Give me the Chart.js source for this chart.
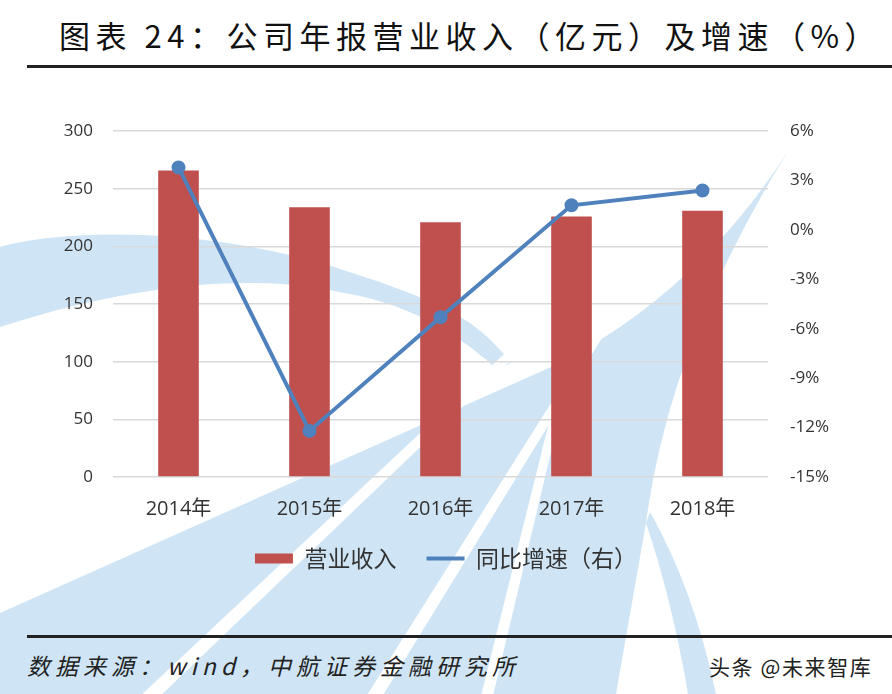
<!DOCTYPE html>
<html>
<head>
<meta charset="utf-8">
<script src="https://cdn.jsdelivr.net/npm/chart.js@4/dist/chart.umd.min.js"></script>
<style>
  html, body { margin: 0; padding: 0; background: #fff; }
  body { width: 892px; height: 694px; position: relative; overflow: hidden; font-family: "Noto Sans CJK SC", sans-serif; }
  #bg { position: absolute; left: 0; top: 0; }
  #title { position: absolute; left: 24px; top: 12px; width: 892px; text-align: center; font-size: 31px; letter-spacing: 5.5px; color: #111; }
  .rule { position: absolute; left: 27px; right: 0; background: #222; }
  #wrap { position: absolute; left: 0; top: 99px; width: 892px; height: 489px; }
  #source { position: absolute; left: 27px; top: 648px; font-size: 23px; letter-spacing: 5px; font-style: italic; color: #222; }
  #mark { position: absolute; left: 709px; top: 651px; font-size: 21px; letter-spacing: 1.6px; color: #222; }
</style>
</head>
<body>
<svg id="bg" width="892" height="694">
  <g fill="#cfe5f5">
    <path d="M0,247 C60,230 200,225 337,268 S480,330 512,362 L498,370 C470,345 420,305 344,293 C270,275 150,278 0,327 Z"/>
    <path d="M790,148 Q700,290 560,363 L0,613 L0,694 L616,694 L646,523 Q670,340 790,148 Z"/>
    <path d="M646,523 Q672,600 688,694 L716,694 Q694,590 650,512 Z"/>
  </g>
  <g fill="#fff">
    <path d="M566,296 L574,300 L156,700 L136,700 Z"/>
    <path d="M616,300 L624,302 L380,700 L364,700 Z"/>
    <path d="M572,330 L580,330 L492,700 L480,700 Z"/>
  </g>
</svg>
<div id="title">图表 24：公司年报营业收入（亿元）及增速（%）</div>
<div class="rule" style="top:65px;height:3px;"></div>
<div id="wrap"><canvas id="chart"></canvas></div>
<div class="rule" style="top:635px;height:3px;"></div>
<div id="source">数据来源：wind，中航证券金融研究所</div>
<div id="mark">头条 @未来智库</div>
<script>
// 数据
const anos = ['2014年', '2015年', '2016年', '2017年', '2018年'];
const receita = [266, 234, 221, 226, 231];
const crescimento = [3.8, -12.2, -5.3, 1.5, 2.4];

const ctx = document.getElementById('chart').getContext('2d');
const fonteY = { family: '"Open Sans", "Noto Sans CJK SC", sans-serif', size: 17 };
const fonteX = { family: '"Open Sans", "Noto Sans CJK SC", sans-serif', size: 20 };

new Chart(ctx, {
    type: 'bar',
    data: {
        labels: anos,
        datasets: [
            {
                label: '同比增速（右）',
                data: crescimento,
                type: 'line',
                yAxisID: 'y1',
                borderColor: '#4F81BD',
                backgroundColor: '#4F81BD',
                borderWidth: 4,
                pointRadius: 5,
                pointHoverRadius: 5,
                tension: 0,
                order: 0
            },
            {
                label: '营业收入',
                data: receita,
                yAxisID: 'y',
                backgroundColor: '#C0504D',
                borderWidth: 0,
                categoryPercentage: 1,
                barPercentage: 0.31,
                order: 1
            }
        ]
    },
    options: {
        responsive: true,
        maintainAspectRatio: false,
        animation: false,
        layout: { padding: { top: 4, right: 0, left: 0, bottom: 8 } },
        plugins: {
            tooltip: { enabled: false },
            legend: {
                position: 'bottom',
                reverse: true,
                labels: {
                    usePointStyle: true,
                    pointStyleWidth: 38,
                    boxHeight: 10,
                    padding: 14,
                    color: '#333',
                    font: { family: '"Noto Sans CJK SC", sans-serif', size: 23 },
                    generateLabels: chart => {
                        const itens = Chart.defaults.plugins.legend.labels.generateLabels(chart);
                        return itens.map(item => {
                            const ds = chart.data.datasets[item.datasetIndex];
                            if (ds.type === 'line') {
                                item.pointStyle = 'line';
                                item.strokeStyle = ds.borderColor;
                                item.lineWidth = 4;
                            } else {
                                item.pointStyle = 'rect';
                                item.lineWidth = 0;
                                item.text = item.text + '\u2002\u2009';
                            }
                            return item;
                        });
                    }
                }
            }
        },
        scales: {
            x: {
                grid: { display: false },
                border: { display: false },
                ticks: { color: '#333', font: fonteX, padding: 12 }
            },
            y: {
                position: 'left',
                min: 0,
                max: 300,
                ticks: { stepSize: 50, color: '#333', font: fonteY, padding: 20 },
                grid: { color: '#d9d9d9', lineWidth: 1.5, drawTicks: false },
                border: { display: false },
                afterFit: s => { s.width = 113; }
            },
            y1: {
                position: 'right',
                min: -15,
                max: 6,
                ticks: {
                    stepSize: 3,
                    color: '#333',
                    font: fonteY,
                    padding: 22,
                    callback: v => v + '%'
                },
                grid: { display: false, drawTicks: false },
                border: { display: false },
                afterFit: s => { s.width = 124; }
            }
        }
    }
});
</script>
</body>
</html>
